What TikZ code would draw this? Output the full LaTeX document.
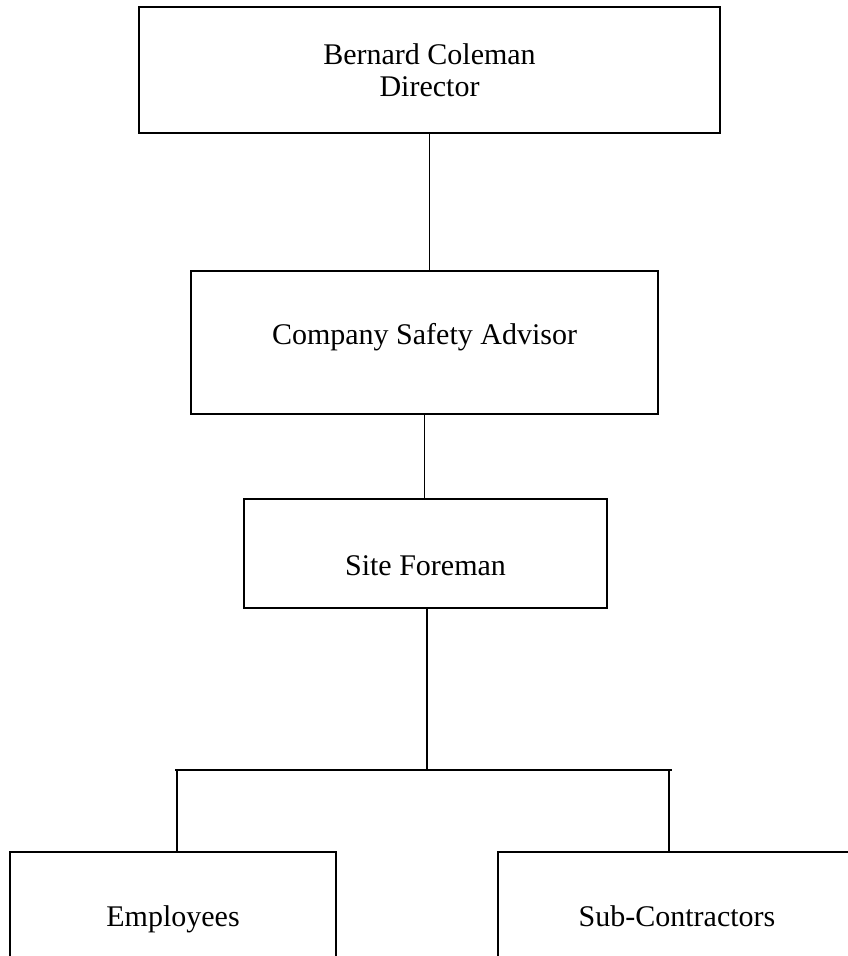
\documentclass[tikz,border=0pt]{standalone}
\usepackage{fontspec}
\setmainfont{Liberation Serif}
\usetikzlibrary{positioning}

\begin{document}
\begin{tikzpicture}[
  x=0.75pt, y=-0.75pt,
  font=\fontsize{22.5}{24}\selectfont,
  box/.style={draw, line width=1.4pt, align=center, inner sep=0pt, outer sep=0pt},
  low/.style={text height=15pt, text depth=12.75pt},
  link/.style={line width=1.4pt}
]
\clip (0,0) rectangle (848,956);
\node[box, minimum width=435.75pt, minimum height=94.5pt] (director) at (429.5,70) {Bernard Coleman\\ Director};
\node[box, low, minimum width=350.25pt, minimum height=107.25pt] (advisor) at (424.5,342.5) {Company Safety Advisor};
\node[box, text height=40pt, text depth=7.75pt, minimum width=272.25pt, minimum height=81.75pt] (foreman) at (425.5,553.5) {Site Foreman};
\node[box, low, minimum width=244.5pt, minimum height=109.5pt] (employees) at (173,925) {Employees};
\node[box, low, minimum width=268.5pt, minimum height=109.5pt] (subcon) at (677,925) {Sub-Contractors};

% branch line
\coordinate (busL) at (175,770);
\coordinate (busR) at (672,770);
\coordinate (busM) at (427,770);
\coordinate (empTop) at (177,770);
\coordinate (subTop) at (669,770);

\draw[link] (director.south) -- (director.south |- advisor.north);
\draw[link] (advisor.south) -- (advisor.south |- foreman.north);
\draw[link] (foreman.south -| busM) -- (busM);
\draw[link] (busL) -- (busR);
\draw[link] (empTop) -- (empTop |- employees.north);
\draw[link] (subTop) -- (subTop |- subcon.north);
\end{tikzpicture}
\end{document}
